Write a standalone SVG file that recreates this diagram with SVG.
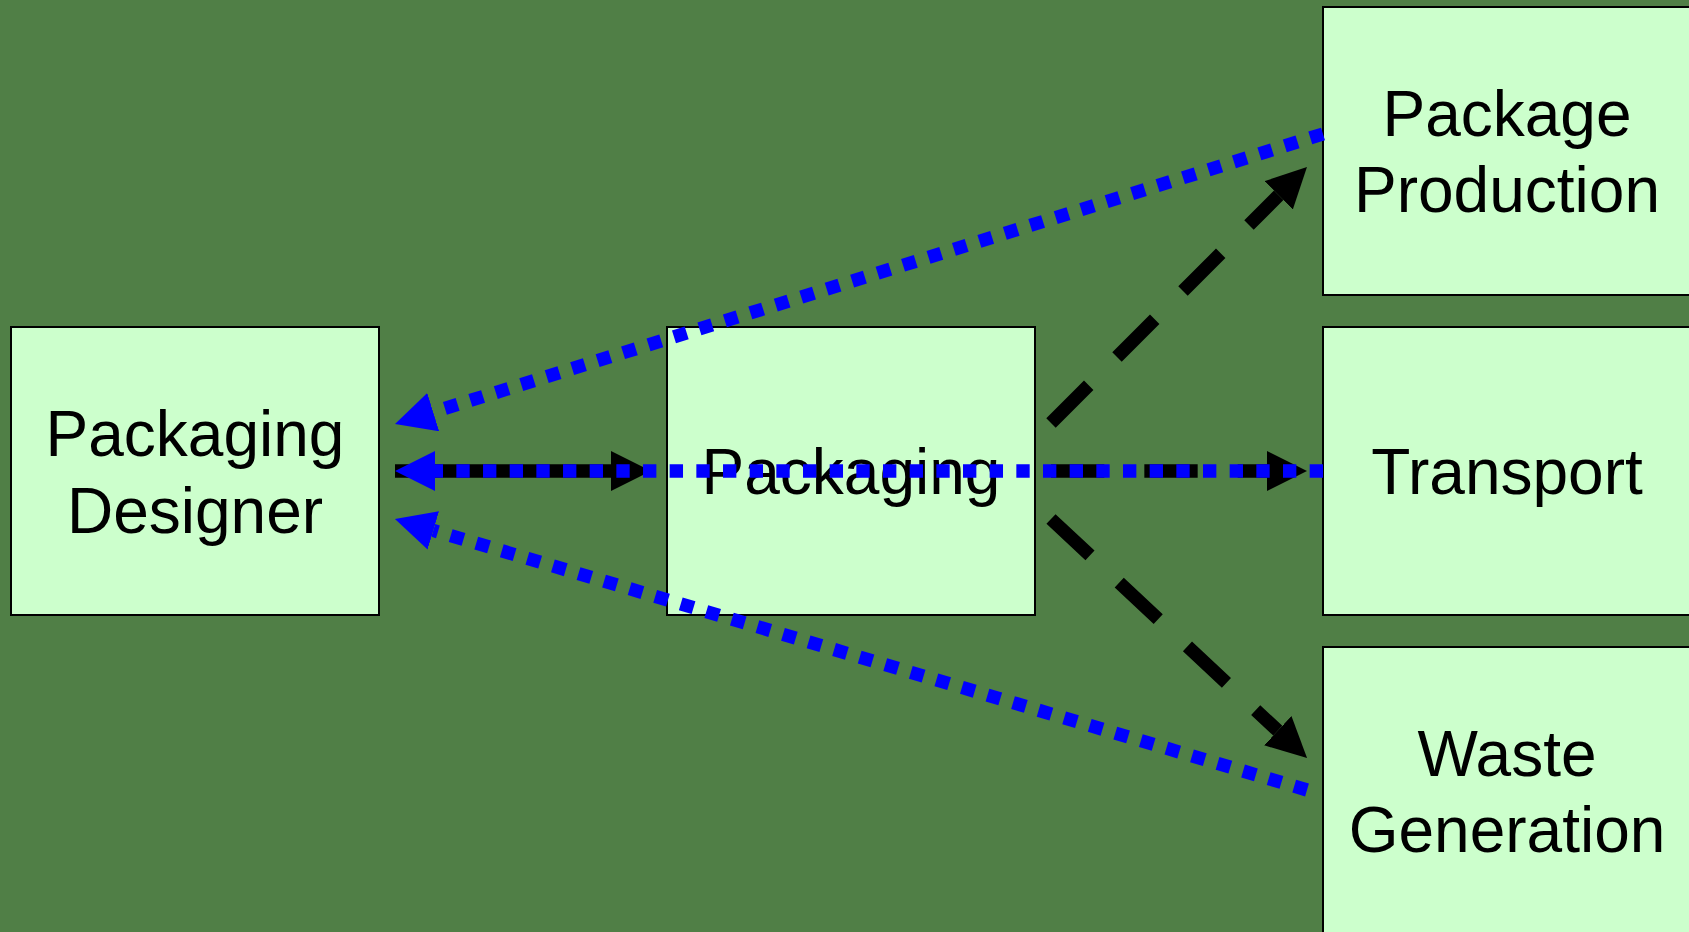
<svg xmlns="http://www.w3.org/2000/svg" width="1689" height="932" viewBox="0 0 1689 932">
  <style>
    .bg { fill: #507F46; }
    .node rect { fill: #CCFFCC; stroke: #000000; stroke-width: 2; }
    .node text { font-family: "Liberation Sans", Arial, sans-serif; font-size: 64px; fill: #000000; text-anchor: middle; }
    .flow { fill: none; stroke: #000000; stroke-width: 13.333; stroke-dasharray: 53.333 40; marker-end: url(#arrowBlack); }
    .flow.solid { stroke-dasharray: none; }
    .feedback { fill: none; stroke: #0000FF; stroke-width: 13.333; stroke-dasharray: 13.333 13.333; marker-end: url(#arrowBlue); }
  </style>
  <defs>
    <marker id="arrowBlack" viewBox="0 0 3 3" markerUnits="strokeWidth" markerWidth="3" markerHeight="3" refX="0" refY="1.5" orient="auto">
      <path d="M0,0 L3,1.5 L0,3 Z" fill="#000000"/>
    </marker>
    <marker id="arrowBlue" viewBox="0 0 3 3" markerUnits="strokeWidth" markerWidth="3" markerHeight="3" refX="0" refY="1.5" orient="auto">
      <path d="M0,0 L3,1.5 L0,3 Z" fill="#0000FF"/>
    </marker>
  </defs>
  <rect class="bg" x="0" y="0" width="1689" height="932"/>

  <g id="node-packaging-designer" class="node">
    <rect x="11" y="327" width="368" height="288"/>
    <text x="195" y="456">Packaging</text>
    <text x="195" y="533">Designer</text>
  </g>
  <g id="node-packaging" class="node">
    <rect x="667" y="327" width="368" height="288"/>
    <text x="851" y="494">Packaging</text>
  </g>
  <g id="node-package-production" class="node">
    <rect x="1323" y="7" width="368" height="288"/>
    <text x="1507" y="136">Package</text>
    <text x="1507" y="212">Production</text>
  </g>
  <g id="node-transport" class="node">
    <rect x="1323" y="327" width="368" height="288"/>
    <text x="1507" y="494">Transport</text>
  </g>
  <g id="node-waste-generation" class="node">
    <rect x="1323" y="647" width="368" height="288"/>
    <text x="1507" y="776">Waste</text>
    <text x="1507" y="852">Generation</text>
  </g>

  <g id="connectors">
    <path class="flow solid" d="M395,471 L611,471"/>
    <path class="flow" d="M1051,423 L1278.7,195.3"/>
    <path class="flow" d="M1051,471 L1267,471"/>
    <path class="flow" d="M1051,519 L1277.8,730.7"/>
    <path class="feedback" d="M1323,134 L433.2,412.1"/>
    <path class="feedback" d="M1323,471 L435,471"/>
    <path class="feedback" d="M1307,790 L433.3,530.4"/>
  </g>
</svg>
